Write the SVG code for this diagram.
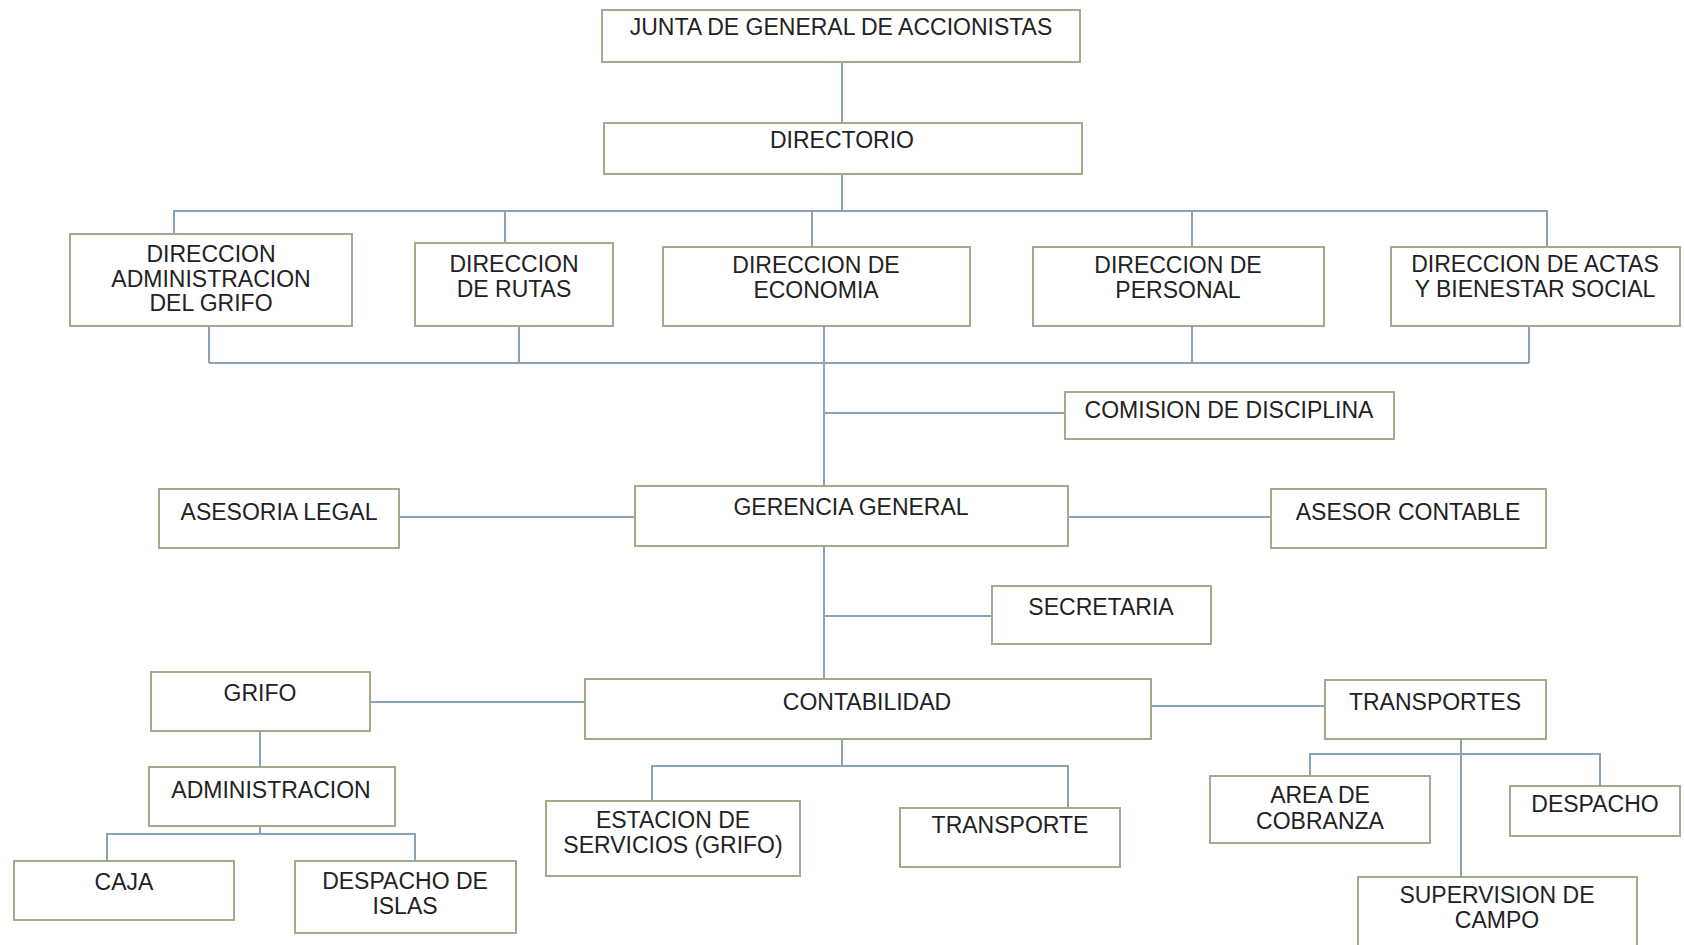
<svg xmlns="http://www.w3.org/2000/svg" width="1684" height="945" viewBox="0 0 1684 945">
<style>
.b{fill:#fff;stroke:#a3ab8e;stroke-width:2}
.t{font-family:"Liberation Sans",Arial,sans-serif;font-size:23px;fill:#222;text-anchor:middle}
.c{fill:none;stroke:#8ba3b6;stroke-width:2}
</style>
<rect width="1684" height="945" fill="#fff"/>
<g id="connectors">
<path class="c" d="M842 62V123"/>
<path class="c" d="M842 174V211M174 234V211H1547V247M505 211V243M812 211V247M1192 211V247"/>
<path class="c" d="M209 326V363M519 326V363M824 326V486M1192 326V363M1529 326V363M209 363H1529"/>
<path class="c" d="M824 413H1065"/>
<path class="c" d="M399 517H635M1068 517H1271"/>
<path class="c" d="M824 546V679M824 616H992"/>
<path class="c" d="M370 702H585M1151 706H1325"/>
<path class="c" d="M260 731V767M260 826V834M107 861V834H415V861"/>
<path class="c" d="M842 739V766M652 801V766H1068V808"/>
<path class="c" d="M1461 739V877M1310 776V754H1600V786"/>
</g>
<g id="junta"><rect class="b" x="602" y="10" width="478" height="52"/><text class="t" x="841" y="35">JUNTA DE GENERAL DE ACCIONISTAS</text></g>
<g id="directorio"><rect class="b" x="604" y="123" width="478" height="51"/><text class="t" x="842" y="148">DIRECTORIO</text></g>
<g id="dir-admin"><rect class="b" x="70" y="234" width="282" height="92"/><text class="t" x="211" y="262">DIRECCION</text><text class="t" x="211" y="287">ADMINISTRACION</text><text class="t" x="211" y="311">DEL GRIFO</text></g>
<g id="dir-rutas"><rect class="b" x="415" y="243" width="198" height="83"/><text class="t" x="514" y="272">DIRECCION</text><text class="t" x="514" y="297">DE RUTAS</text></g>
<g id="dir-economia"><rect class="b" x="663" y="247" width="307" height="79"/><text class="t" x="816" y="273">DIRECCION DE</text><text class="t" x="816" y="298">ECONOMIA</text></g>
<g id="dir-personal"><rect class="b" x="1033" y="247" width="291" height="79"/><text class="t" x="1178" y="273">DIRECCION DE</text><text class="t" x="1178" y="298">PERSONAL</text></g>
<g id="dir-actas"><rect class="b" x="1391" y="247" width="289" height="79"/><text class="t" x="1535" y="272">DIRECCION DE ACTAS</text><text class="t" x="1535" y="297">Y BIENESTAR SOCIAL</text></g>
<g id="comision"><rect class="b" x="1065" y="392" width="329" height="47"/><text class="t" x="1229" y="418">COMISION DE DISCIPLINA</text></g>
<g id="gerencia"><rect class="b" x="635" y="486" width="433" height="60"/><text class="t" x="851" y="515">GERENCIA GENERAL</text></g>
<g id="asesoria-legal"><rect class="b" x="159" y="489" width="240" height="59"/><text class="t" x="279" y="520">ASESORIA LEGAL</text></g>
<g id="asesor-contable"><rect class="b" x="1271" y="489" width="275" height="59"/><text class="t" x="1408" y="520">ASESOR CONTABLE</text></g>
<g id="secretaria"><rect class="b" x="992" y="586" width="219" height="58"/><text class="t" x="1101" y="615">SECRETARIA</text></g>
<g id="grifo"><rect class="b" x="151" y="672" width="219" height="59"/><text class="t" x="260" y="701">GRIFO</text></g>
<g id="contabilidad"><rect class="b" x="585" y="679" width="566" height="60"/><text class="t" x="867" y="710">CONTABILIDAD</text></g>
<g id="transportes"><rect class="b" x="1325" y="680" width="221" height="59"/><text class="t" x="1435" y="710">TRANSPORTES</text></g>
<g id="administracion"><rect class="b" x="149" y="767" width="246" height="59"/><text class="t" x="271" y="798">ADMINISTRACION</text></g>
<g id="caja"><rect class="b" x="14" y="861" width="220" height="59"/><text class="t" x="124" y="890">CAJA</text></g>
<g id="despacho-islas"><rect class="b" x="295" y="861" width="221" height="72"/><text class="t" x="405" y="889">DESPACHO DE</text><text class="t" x="405" y="914">ISLAS</text></g>
<g id="estacion"><rect class="b" x="546" y="801" width="254" height="75"/><text class="t" x="673" y="828">ESTACION DE</text><text class="t" x="673" y="853">SERVICIOS (GRIFO)</text></g>
<g id="transporte"><rect class="b" x="900" y="808" width="220" height="59"/><text class="t" x="1010" y="833">TRANSPORTE</text></g>
<g id="cobranza"><rect class="b" x="1210" y="776" width="220" height="67"/><text class="t" x="1320" y="803">AREA DE</text><text class="t" x="1320" y="829">COBRANZA</text></g>
<g id="despacho"><rect class="b" x="1510" y="786" width="170" height="50"/><text class="t" x="1595" y="812">DESPACHO</text></g>
<g id="supervision"><rect class="b" x="1358" y="877" width="279" height="80"/><text class="t" x="1497" y="903">SUPERVISION DE</text><text class="t" x="1497" y="928">CAMPO</text></g>
</svg>
